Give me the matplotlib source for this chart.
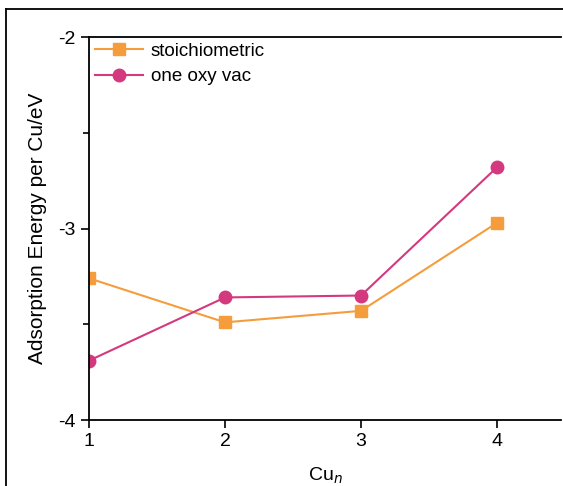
import numpy as np
import matplotlib
matplotlib.use('Agg')
import matplotlib.pyplot as plt
from matplotlib.lines import Line2D
from matplotlib.ticker import MultipleLocator

plt.rcParams['font.family'] = ['Liberation Sans', 'DejaVu Sans']
plt.rcParams['axes.unicode_minus'] = False

cu_n = [1, 2, 3, 4]
stoich = [-3.26, -3.49, -3.43, -2.97]
oxy_vac = [-3.69, -3.36, -3.35, -2.68]

orange = '#F59D3D'
pink = '#D4387F'

fig = plt.figure(figsize=(5.63, 4.86), dpi=100)
ax = fig.add_axes([89/563, 66/486, 472/563, 383/486])

ax.plot(cu_n, stoich, color=orange, marker='s', markersize=8, lw=1.5, label='stoichiometric')
ax.plot(cu_n, oxy_vac, color=pink, marker='o', markersize=9, lw=1.5, label='one oxy vac')

ax.set_xlim(1, 4.47)
ax.set_ylim(-4, -2)
ax.set_xticks(cu_n)
ax.set_yticks([-4, -3, -2])
ax.yaxis.set_minor_locator(MultipleLocator(0.5))
ax.tick_params(direction='out', length=6, width=1.2, labelsize=14, colors='black')
ax.tick_params(which='minor', direction='out', length=4, width=1.2)
ax.spines['right'].set_visible(False)
for s in ['left', 'bottom', 'top']:
    ax.spines[s].set_linewidth(1.3)

ax.set_xlabel('Cu$_n$', fontsize=14, labelpad=11)
ax.set_ylabel('Adsorption Energy per Cu/eV', fontsize=15, labelpad=8)

ax.legend(loc='upper left', frameon=False, fontsize=13.5, handlelength=2.6,
          borderaxespad=0.1, borderpad=0.2, labelspacing=0.45, handletextpad=0.4)

# outer frame lines
fig.add_artist(Line2D([6/563, 1], [1 - 9/486, 1 - 9/486], color='black', lw=1.3))
fig.add_artist(Line2D([6/563, 6/563], [0, 1 - 9/486], color='black', lw=1.3))

fig.savefig('out.png', dpi=100)
